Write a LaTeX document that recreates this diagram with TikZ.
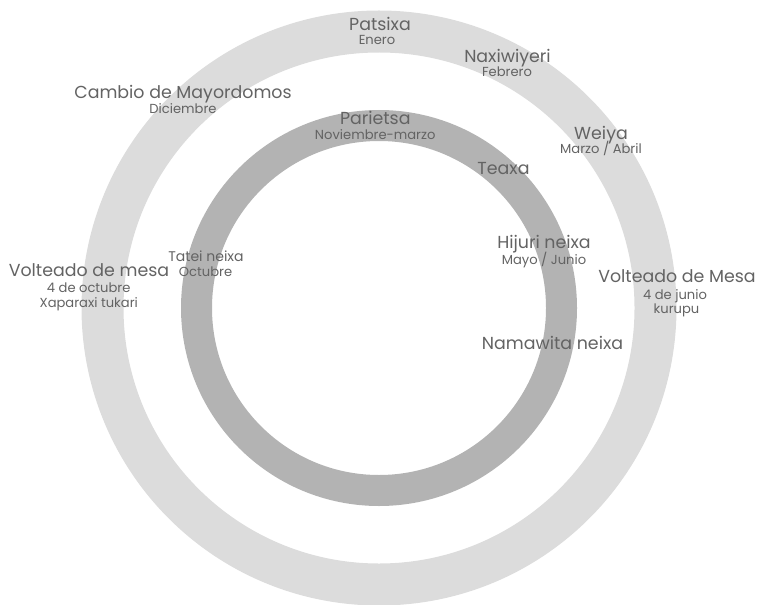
\documentclass[tikz,border=0pt]{standalone}
\usepackage{fontspec}
\setmainfont{Poppins}
\definecolor{outerring}{HTML}{DCDCDC}
\definecolor{innerring}{HTML}{B3B3B3}
\definecolor{labeltext}{HTML}{636363}
\begin{document}
\begin{tikzpicture}[x=1pt,y=-1pt,
  mainlbl/.style={text=labeltext,font=\fontsize{17.4}{17.4}\selectfont,anchor=base,inner sep=0pt},
  sublbl/.style={text=labeltext,font=\fontsize{13.1}{13.1}\selectfont,anchor=base,inner sep=0pt},
  midlbl/.style={text=labeltext,font=\fontsize{14}{14}\selectfont,anchor=base,inner sep=0pt}]
\useasboundingbox (0,0) rectangle (759,604);
\coordinate (c) at (379,308);
\draw[outerring,line width=42pt] (c) circle[radius=276.5];
\draw[innerring,line width=31pt] (c) circle[radius=182.5];
% outer ring labels
\node[mainlbl] (patsixa) at (380,30.7) {Patsixa};
\node[sublbl] (enero) at (377,44.3) {Enero};
\node[mainlbl] (naxiwiyeri) at (507.5,62.3) {Naxiwiyeri};
\node[sublbl] (febrero) at (507,76.5) {Febrero};
\node[mainlbl] (weiya) at (601,139.5) {Weiya};
\node[sublbl] (marzo) at (601,153.3) {Marzo / Abril};
\node[mainlbl] (cambio) at (183,99) {Cambio de Mayordomos};
\node[sublbl] (diciembre) at (183,114) {Diciembre};
\node[mainlbl] (voltl) at (89,276) {Volteado de mesa};
\node[sublbl] (octubrel) at (88.7,292.7) {4 de octubre};
\node[sublbl] (xaparaxi) at (88.8,307.3) {Xaparaxi tukari};
\node[mainlbl] (voltr) at (677,282.7) {Volteado de Mesa};
\node[sublbl] (junio) at (675,299) {4 de junio};
\node[sublbl] (kurupu) at (676.5,313.5) {kurupu};
% inner ring labels
\node[mainlbl] (parietsa) at (375.3,124.3) {Parietsa};
\node[sublbl] (noviembre) at (375.2,140) {Noviembre-marzo};
\node[mainlbl] (teaxa) at (503.5,175) {Teaxa};
\node[mainlbl] (hijuri) at (544,248.5) {Hijuri neixa};
\node[sublbl] (mayo) at (544,264) {Mayo / Junio};
\node[midlbl] (tatei) at (206,261.7) {Tatei neixa};
\node[sublbl] (octubre) at (205.5,276.7) {Octubre};
\node[mainlbl] (namawita) at (552.5,349.3) {Namawita neixa};
\end{tikzpicture}
\end{document}
